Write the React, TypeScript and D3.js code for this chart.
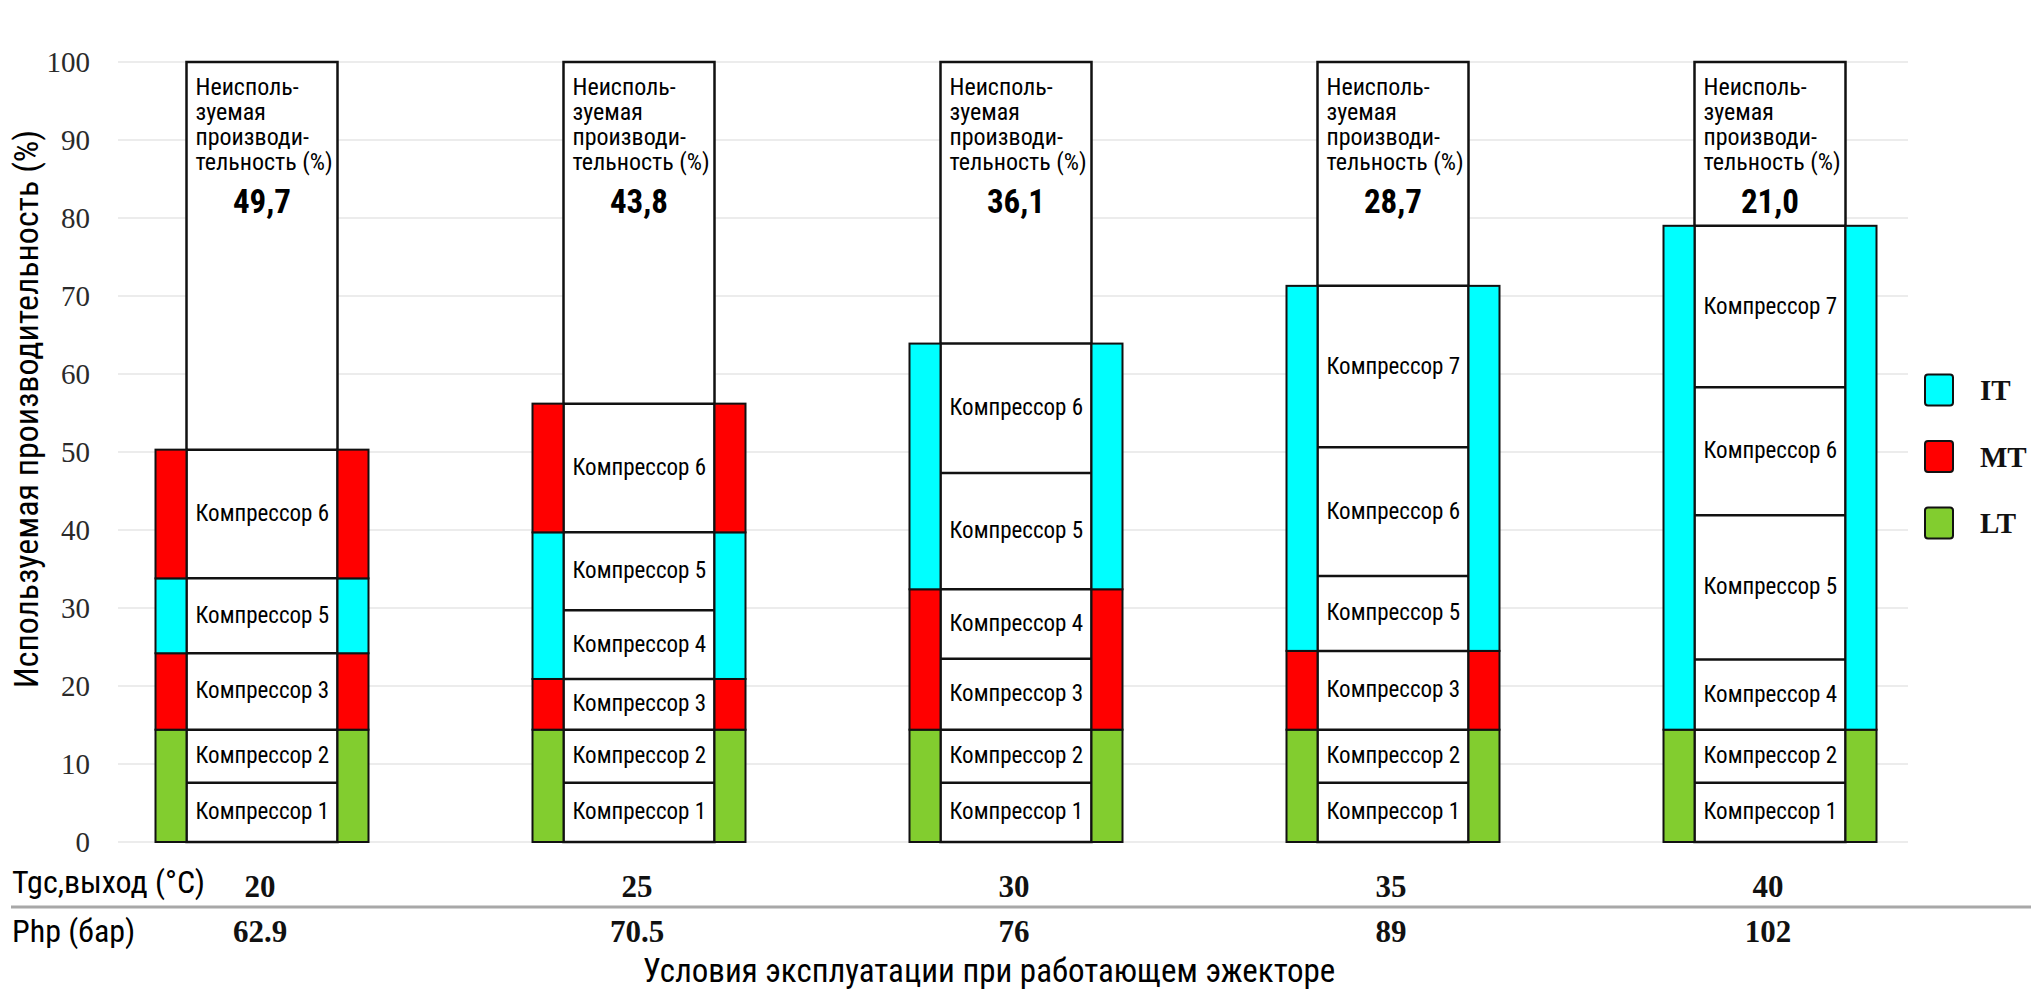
import React from "react";
import * as d3 from "d3";

// ---------- data ----------
const conditions = ["20", "25", "30", "35", "40"]; // Tgc, выход (°C)
const pressures = ["62.9", "70.5", "76", "89", "102"]; // Php (бар)
const unusedValues = [49.7, 43.8, 36.1, 28.7, 21.0];
const unusedLabels = ["49,7", "43,8", "36,1", "28,7", "21,0"];
const compressorIds = [
  [1, 2, 3, 5, 6],
  [1, 2, 3, 4, 5, 6],
  [1, 2, 3, 4, 5, 6],
  [1, 2, 3, 5, 6, 7],
  [1, 2, 4, 5, 6, 7],
];
const compressorValues = [
  [7.6, 6.8, 9.8, 9.6, 16.5],
  [7.6, 6.8, 6.5, 8.8, 10.0, 16.5],
  [7.6, 6.8, 9.1, 8.9, 14.9, 16.6],
  [7.6, 6.8, 10.1, 9.6, 16.5, 20.7],
  [7.6, 6.8, 9.0, 18.5, 16.4, 20.7],
];
const compressorGroups = [
  ["LT", "LT", "MT", "IT", "MT"],
  ["LT", "LT", "MT", "IT", "IT", "MT"],
  ["LT", "LT", "MT", "MT", "IT", "IT"],
  ["LT", "LT", "MT", "IT", "IT", "IT"],
  ["LT", "LT", "IT", "IT", "IT", "IT"],
];
const groupNames = ["IT", "MT", "LT"];
const groupColors = ["#00ffff", "#ff0000", "#82cd2f"];
const yTicks = [0, 10, 20, 30, 40, 50, 60, 70, 80, 90, 100];
const unusedTextLines = ["Неисполь-", "зуемая", "производи-", "тельность (%)"];
const compressorWord = "Компрессор";
const yTitle = "Используемая производительность (%)";
const xTitle = "Условия эксплуатации при работающем эжекторе";
const rowTitle1 = "Tgc,выход (°С)";
const rowTitle2 = "Php (бар)";

// ---------- style ----------
const W = 2031;
const H = 1004;
const condFont = '"Roboto Condensed", "Liberation Sans Narrow", "DejaVu Sans Condensed", "Open Sans Condensed", "Noto Sans", sans-serif';
const serifFont = '"Liberation Serif", "Times New Roman", "DejaVu Serif", serif';

const color = d3.scaleOrdinal<string, string>().domain(groupNames).range(groupColors);

export default function App() {
  const y = d3.scaleLinear().domain([0, 100]).range([842, 62]);
  const x = d3.scalePoint<string>().domain(conditions).range([262, 1770]);
  const sideW = 31;
  const centerW = 151;
  const half = centerW / 2;

  const bars = conditions.map((c, i) => {
    const vals = compressorValues[i];
    const cum = d3.cumsum(vals);
    const segs = vals.map((v, j) => ({
      id: compressorIds[i][j],
      group: compressorGroups[i][j],
      y0: j === 0 ? 0 : cum[j - 1],
      y1: cum[j],
    }));
    const blocks: { group: string; y0: number; y1: number }[] = [];
    segs.forEach((s) => {
      const last = blocks[blocks.length - 1];
      if (last && last.group === s.group) last.y1 = s.y1;
      else blocks.push({ group: s.group, y0: s.y0, y1: s.y1 });
    });
    const used = cum[cum.length - 1];
    return { c, i, segs, blocks, used };
  });

  return (
    <svg
      width={W}
      height={H}
      viewBox={`0 0 ${W} ${H}`}
      style={{ position: "absolute", left: 0, top: 0, display: "block", background: "#fff" }}
    >
      <rect x={0} y={0} width={W} height={H} fill="#fff" />
      {yTicks.map((t) => (
        <line key={"g" + t} x1={118} x2={1908} y1={y(t)} y2={y(t)} stroke="#ececec" strokeWidth={2} />
      ))}
      {yTicks.map((t) => (
        <text
          key={"t" + t}
          x={90}
          y={y(t)}
          dy="0.34em"
          textAnchor="end"
          fontFamily={serifFont}
          fontSize={29}
          fill="#2a2a2a"
        >
          {t}
        </text>
      ))}
      <text
        transform={`translate(38, ${y(55.5)}) rotate(-90)`}
        textAnchor="middle"
        fontFamily={condFont}
        fontSize={34}
        fill="#000"
      >
        {yTitle}
      </text>

      {bars.map((b) => {
        const cx = x(b.c) as number;
        return (
          <g key={b.c}>
            <rect
              x={cx - half}
              y={y(100)}
              width={centerW}
              height={y(0) - y(100)}
              fill="#fff"
              stroke="#111"
              strokeWidth={2.5}
            />
            {b.segs.map((s, j) => (
              <line
                key={"l" + j}
                x1={cx - half}
                x2={cx + half}
                y1={y(s.y1)}
                y2={y(s.y1)}
                stroke="#111"
                strokeWidth={2.5}
              />
            ))}
            {b.blocks.map((bl, j) => (
              <g key={"b" + j}>
                <rect
                  x={cx - half - sideW}
                  y={y(bl.y1)}
                  width={sideW}
                  height={y(bl.y0) - y(bl.y1)}
                  fill={color(bl.group)}
                  stroke="#111"
                  strokeWidth={2}
                />
                <rect
                  x={cx + half}
                  y={y(bl.y1)}
                  width={sideW}
                  height={y(bl.y0) - y(bl.y1)}
                  fill={color(bl.group)}
                  stroke="#111"
                  strokeWidth={2}
                />
              </g>
            ))}
            {b.segs.map((s, j) => (
              <text
                key={"c" + j}
                x={cx - half + 9}
                y={(y(s.y0) + y(s.y1)) / 2 + 7}
                fontFamily={condFont}
                fontSize={23}
                fill="#000"
              >
                {`${compressorWord} ${s.id}`}
              </text>
            ))}
            {unusedTextLines.map((ln, k) => (
              <text
                key={"u" + k}
                x={cx - half + 9}
                y={y(100) + 33 + k * 25}
                fontFamily={condFont}
                fontSize={24}
                fill="#000"
              >
                {ln}
              </text>
            ))}
            <text
              x={cx}
              y={y(100) + 151}
              textAnchor="middle"
              fontFamily={condFont}
              fontWeight="bold"
              fontSize={33}
              fill="#000"
            >
              {unusedLabels[b.i]}
            </text>
            <text
              x={cx - 2}
              y={897}
              textAnchor="middle"
              fontFamily={serifFont}
              fontWeight="bold"
              fontSize={31}
              fill="#111"
            >
              {b.c}
            </text>
            <text
              x={cx - 2}
              y={942}
              textAnchor="middle"
              fontFamily={serifFont}
              fontWeight="bold"
              fontSize={31}
              fill="#111"
            >
              {pressures[b.i]}
            </text>
          </g>
        );
      })}

      <text x={12} y={893} fontFamily={condFont} fontSize={32} fill="#000">
        {rowTitle1}
      </text>
      <line x1={11} x2={W} y1={907} y2={907} stroke="#a8a8a8" strokeWidth={3} />
      <text x={12} y={942} fontFamily={condFont} fontSize={32} fill="#000">
        {rowTitle2}
      </text>
      <text x={989} y={982} textAnchor="middle" fontFamily={condFont} fontSize={33} fill="#000">
        {xTitle}
      </text>

      {groupNames.map((g, k) => {
        const cy = 390 + k * 66.5;
        return (
          <g key={"lg" + g}>
            <rect
              x={1925}
              y={cy - 15.5}
              width={28}
              height={31}
              rx={3}
              fill={color(g)}
              stroke="#111"
              strokeWidth={2}
            />
            <text
              x={1980}
              y={cy + 10}
              fontFamily={serifFont}
              fontWeight="bold"
              fontSize={29}
              fill="#111"
            >
              {g}
            </text>
          </g>
        );
      })}
    </svg>
  );
}
